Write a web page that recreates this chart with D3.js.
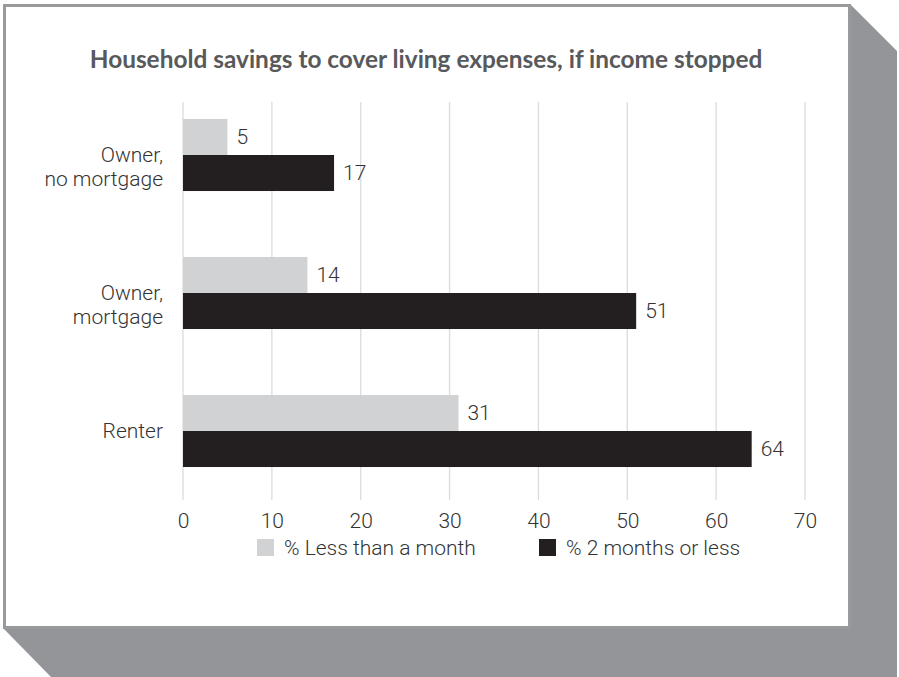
<!DOCTYPE html>
<html>
<head>
	<title>Household savings</title>
	<script src="https://d3js.org/d3.v7.min.js"></script>
	<style>
	html, body {margin: 0; padding: 0; background: #fff; overflow: hidden}
	.title {font-family: "Lato", "Open Sans", sans-serif; font-weight: 700; font-size: 24.4px; fill: #58595b;}
	.lbl {font-family: "Roboto", sans-serif; font-weight: 300; font-size: 21px; fill: #333;}
	.axis text {font-family: "Roboto", sans-serif; font-weight: 300; font-size: 21px; fill: #333;}
	</style>
</head>
<body>
<script>
	var categories = ["Owner, no mortgage", "Owner, mortgage", "Renter"];
	var catLines = [["Owner,", "no mortgage"], ["Owner,", "mortgage"], ["Renter"]];
	var seriesNames = ["% Less than a month", "% 2 months or less"];
	var lessThanMonth = [5, 14, 31];
	var twoMonthsOrLess = [17, 51, 64];
	var xTicks = [0, 10, 20, 30, 40, 50, 60, 70];
	var colors = ["#d1d2d4", "#231f20"];

	var width = 899, height = 677;

	var svg = d3.select("body").append("svg")
		.attr("width", width)
		.attr("height", height);

	// shadow behind the card
	svg.append("polygon")
		.attr("points", "850,4 897,51 897,677 51,677 3,628")
		.attr("fill", "#939598");

	svg.append("rect")
		.attr("x", 4.5)
		.attr("y", 5.5)
		.attr("width", 845)
		.attr("height", 622)
		.attr("fill", "#fff")
		.attr("stroke", "#999a9c")
		.attr("stroke-width", 3);

	svg.append("text")
		.attr("class", "title")
		.attr("x", 426)
		.attr("y", 68)
		.attr("text-anchor", "middle")
		.text("Household savings to cover living expenses, if income stopped");

	var x = d3.scaleLinear().domain([0, 70]).range([183, 805]);

	var y = d3.scaleBand().domain(categories).range([86, 500])
		.paddingInner(0.478).paddingOuter(0.239);
	var ySub = d3.scaleBand().domain(seriesNames).range([0, y.bandwidth()]);

	// grid
	svg.append("g")
		.selectAll("line")
		.data(xTicks)
		.enter().append("line")
		.attr("x1", function(d){ return x(d); })
		.attr("x2", function(d){ return x(d); })
		.attr("y1", 102)
		.attr("y2", 500)
		.attr("stroke", "#dcdcdc")
		.attr("stroke-width", 1.3);

	var xAxis = d3.axisBottom(x).tickValues(xTicks).tickSize(0).tickPadding(0);
	var ax = svg.append("g")
		.attr("class", "axis")
		.attr("transform", "translate(0,513)")
		.call(xAxis);
	ax.select(".domain").remove();
	ax.selectAll("text").attr("dy", "0.71em");

	var rows = categories.map(function(c, i){
		return {cat: c, lines: catLines[i], vals: [lessThanMonth[i], twoMonthsOrLess[i]]};
	});

	var grp = svg.append("g").selectAll("g")
		.data(rows)
		.enter().append("g")
		.attr("transform", function(d){ return "translate(0," + y(d.cat) + ")"; });

	grp.selectAll("rect")
		.data(function(d){ return d.vals.map(function(v, j){ return {v: v, s: seriesNames[j], j: j}; }); })
		.enter().append("rect")
		.attr("x", x(0))
		.attr("y", function(d){ return ySub(d.s); })
		.attr("width", function(d){ return x(d.v) - x(0); })
		.attr("height", ySub.bandwidth())
		.attr("fill", function(d){ return colors[d.j]; });

	grp.selectAll(".val")
		.data(function(d){ return d.vals.map(function(v, j){ return {v: v, s: seriesNames[j]}; }); })
		.enter().append("text")
		.attr("class", "lbl val")
		.attr("x", function(d){ return x(d.v) + 9; })
		.attr("y", function(d){ return ySub(d.s) + ySub.bandwidth() / 2; })
		.attr("dy", "0.35em")
		.text(function(d){ return d.v; });

	grp.each(function(d){
		var t = d3.select(this).append("text")
			.attr("class", "lbl")
			.attr("text-anchor", "end");
		d.lines.forEach(function(line, k){
			t.append("tspan")
				.attr("x", 163)
				.attr("y", y.bandwidth() / 2 + k * 24)
				.attr("dy", "0.35em")
				.text(line);
		});
	});

	// legend
	var legendX = [257, 539];
	var leg = svg.append("g").selectAll("g")
		.data(seriesNames)
		.enter().append("g")
		.attr("transform", function(d, i){ return "translate(" + legendX[i] + ",539)"; });
	leg.append("rect")
		.attr("width", 17)
		.attr("height", 17)
		.attr("fill", function(d, i){ return colors[i]; });
	leg.append("text")
		.attr("class", "lbl")
		.attr("x", 27)
		.attr("y", 9)
		.attr("dy", "0.35em")
		.text(function(d){ return d; });
</script>
</body>
</html>
